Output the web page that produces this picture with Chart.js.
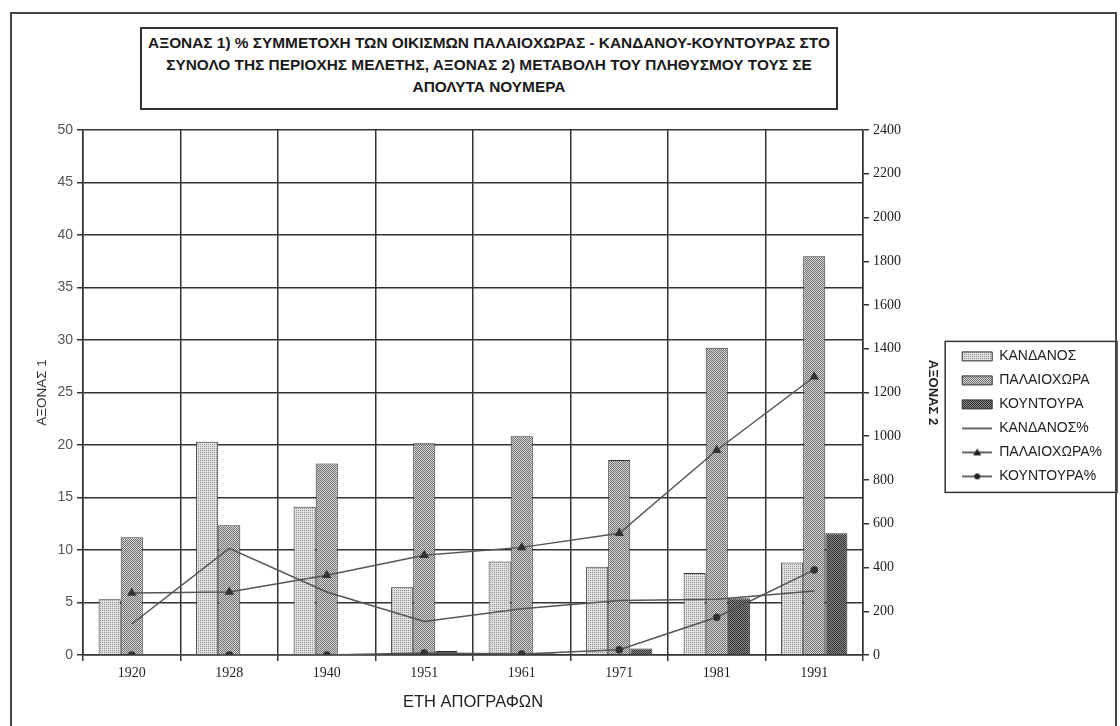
<!DOCTYPE html>
<html>
<head>
<meta charset="utf-8">
<script src="https://cdn.jsdelivr.net/npm/chart.js@4"></script>
<style>
  body { margin: 0; background: #fff; }
  #wrap { position: relative; width: 1120px; height: 726px; overflow: hidden; }
  #frame { position: absolute; left: 10px; top: 12px; width: 1103px; height: 716px; border: 2px solid #444; pointer-events: none; }
  #titleBox {
    position: absolute; left: 140px; top: 27px; width: 694px; height: 76px;
    border: 2px solid #333; background: #fff;
    font-family: "Liberation Sans", Arial, sans-serif; font-weight: bold; font-size: 15.4px;
    line-height: 22px; text-align: center; color: #1a1a1a; padding-top: 3px;
  }
</style>
</head>
<body>
<div id="wrap">
  <canvas id="chart" width="1120" height="726"></canvas>
  <div id="frame"></div>
  <div id="titleBox">ΑΞΟΝΑΣ 1) % ΣΥΜΜΕΤΟΧΗ ΤΩΝ ΟΙΚΙΣΜΩΝ ΠΑΛΑΙΟΧΩΡΑΣ - ΚΑΝΔΑΝΟΥ-ΚΟΥΝΤΟΥΡΑΣ ΣΤΟ<br>ΣΥΝΟΛΟ ΤΗΣ ΠΕΡΙΟΧΗΣ ΜΕΛΕΤΗΣ, ΑΞΟΝΑΣ 2) ΜΕΤΑΒΟΛΗ ΤΟΥ ΠΛΗΘΥΣΜΟΥ ΤΟΥΣ ΣΕ<br>ΑΠΟΛΥΤΑ ΝΟΥΜΕΡΑ</div>
</div>
<script>
// έτη απογραφών
const years = ['1920', '1928', '1940', '1951', '1961', '1971', '1981', '1991'];

// πληθυσμός (άξονας 2)
const kandanos   = [255, 975, 678, 310, 427, 404, 375, 423];
const palaiochora = [538, 593, 876, 968, 1000, 891, 1405, 1823];
const kountoura  = [0, 0, 0, 18, 8, 30, 260, 557];

// % συμμετοχή (άξονας 1)
const kandanosPct    = [2.95, 10.15, 6.0, 3.2, 4.4, 5.2, 5.3, 6.1];
const palaiochoraPct = [5.9, 6.0, 7.6, 9.5, 10.25, 11.6, 19.5, 26.5];
const kountouraPct   = [0, 0, 0, 0.2, 0.1, 0.5, 3.6, 8.1];

const sansFont = '"Liberation Sans", Arial, sans-serif';
const serifFont = '"Liberation Serif", "Times New Roman", serif';
const padRight = 8;

// μοτίβα για τις στήλες (σαν το τυπωμένο)
function makePattern(bg, dot, checker) {
    const c = document.createElement('canvas');
    c.width = 2; c.height = 2;
    const g = c.getContext('2d');
    g.fillStyle = bg;
    g.fillRect(0, 0, 2, 2);
    g.fillStyle = dot;
    g.fillRect(0, 0, 1, 1);
    if (checker) g.fillRect(1, 1, 1, 1);
    return g.createPattern(c, 'repeat');
}

// εικονίδια υπομνήματος για τις γραμμές
function makeLineIcon(marker) {
    const c = document.createElement('canvas');
    c.width = 30; c.height = 10;
    const g = c.getContext('2d');
    g.strokeStyle = '#333';
    g.fillStyle = '#222';
    g.lineWidth = 1.5;
    g.beginPath();
    g.moveTo(0, 5); g.lineTo(30, 5);
    g.stroke();
    if (marker === 'triangle') {
        g.beginPath();
        g.moveTo(15, 1); g.lineTo(19, 8); g.lineTo(11, 8);
        g.closePath(); g.fill();
    } else if (marker === 'circle') {
        g.beginPath();
        g.arc(15, 5, 3, 0, Math.PI * 2);
        g.fill();
    }
    return c;
}

const lineIcons = [makeLineIcon(null), makeLineIcon('triangle'), makeLineIcon('circle')];

// πλαίσιο γύρω από το υπόμνημα
const legendFrame = {
    id: 'legendFrame',
    afterDraw(chart) {
        const boxes = chart.legend.legendHitBoxes;
        if (!boxes || !boxes.length) return;
        const left = Math.min(...boxes.map(b => b.left)) - 17;
        const top = Math.min(...boxes.map(b => b.top)) - 8;
        const bottom = Math.max(...boxes.map(b => b.top + b.height)) + 9;
        const ctx = chart.ctx;
        ctx.save();
        ctx.strokeStyle = '#333';
        ctx.lineWidth = 1.5;
        ctx.strokeRect(left, top, 1117 - left, bottom - top);
        ctx.restore();
    }
};

const ctx = document.getElementById('chart').getContext('2d');

new Chart(ctx, {
    type: 'bar',
    data: {
        labels: years,
        datasets: [
            {
                label: 'ΚΑΝΔΑΝΟΣ', data: kandanos, yAxisID: 'y2', order: 2,
                backgroundColor: makePattern('#e2e2e2', '#8c8c8c', false),
                borderColor: '#333', borderWidth: 1
            },
            {
                label: 'ΠΑΛΑΙΟΧΩΡΑ', data: palaiochora, yAxisID: 'y2', order: 2,
                backgroundColor: makePattern('#d8d8d8', '#6e6e6e', true),
                borderColor: '#333', borderWidth: 1
            },
            {
                label: 'ΚΟΥΝΤΟΥΡΑ', data: kountoura, yAxisID: 'y2', order: 2,
                backgroundColor: makePattern('#8a8a8a', '#2e2e2e', true),
                borderColor: '#333', borderWidth: 1
            },
            {
                type: 'line', label: 'ΚΑΝΔΑΝΟΣ%', data: kandanosPct, yAxisID: 'y', order: 1,
                borderColor: '#555', borderWidth: 1.5, pointRadius: 0, tension: 0
            },
            {
                type: 'line', label: 'ΠΑΛΑΙΟΧΩΡΑ%', data: palaiochoraPct, yAxisID: 'y', order: 1,
                borderColor: '#555', borderWidth: 1.5, tension: 0,
                pointStyle: 'triangle', pointRadius: 4,
                pointBackgroundColor: '#333', pointBorderColor: '#333'
            },
            {
                type: 'line', label: 'ΚΟΥΝΤΟΥΡΑ%', data: kountouraPct, yAxisID: 'y', order: 1,
                borderColor: '#555', borderWidth: 1.5, tension: 0,
                pointStyle: 'circle', pointRadius: 3,
                pointBackgroundColor: '#333', pointBorderColor: '#333'
            }
        ]
    },
    options: {
        responsive: false,
        animation: false,
        devicePixelRatio: 1,
        categoryPercentage: 0.68,
        barPercentage: 1.0,
        layout: { padding: { top: 130, left: 30, right: padRight, bottom: 14 } },
        plugins: {
            tooltip: { enabled: false },
            title: { display: false },
            legend: {
                position: 'right',
                align: 'start',
                // κενός τίτλος μόνο για να κατέβει το υπόμνημα στο ύψος του πρωτοτύπου
                title: { display: true, text: '', padding: { top: 195, bottom: 0 } },
                labels: {
                    font: { family: sansFont, size: 14 },
                    color: '#222',
                    padding: 10,
                    usePointStyle: true,
                    pointStyleWidth: 30,
                    boxHeight: 9,
                    sort: (a, b) => a.datasetIndex - b.datasetIndex,
                    generateLabels(chart) {
                        const items = Chart.defaults.plugins.legend.labels.generateLabels(chart);
                        items.forEach(it => {
                            if (it.datasetIndex >= 3) {
                                it.pointStyle = lineIcons[it.datasetIndex - 3];
                            } else {
                                it.pointStyle = 'rect';
                            }
                        });
                        return items;
                    }
                }
            }
        },
        scales: {
            x: {
                grid: { offset: true, color: '#333', lineWidth: 1.5, tickLength: 6 },
                border: { color: '#333', width: 1.5 },
                ticks: { font: { family: serifFont, size: 14 }, color: '#222', padding: 4 },
                title: {
                    display: true, text: 'ΕΤΗ ΑΠΟΓΡΑΦΩΝ',
                    font: { family: sansFont, size: 16.5 }, color: '#222',
                    padding: { top: 4, bottom: 0 }
                },
                afterFit: s => { s.height = 57; }
            },
            y: {
                position: 'left', min: 0, max: 50,
                ticks: { stepSize: 5, font: { family: sansFont, size: 14 }, color: '#555', padding: 4 },
                grid: { color: '#333', lineWidth: 1.5, tickLength: 6 },
                border: { color: '#333', width: 1.5 },
                title: {
                    display: true, text: 'ΑΞΟΝΑΣ 1',
                    font: { family: sansFont, size: 13.5 }, color: '#333', padding: 4
                },
                afterFit: s => { s.width = 53; }
            },
            y2: {
                position: 'right', min: 0, max: 2400,
                ticks: {
                    stepSize: 200, font: { family: serifFont, size: 14 }, color: '#222', padding: 4,
                    callback: v => String(v)
                },
                grid: { drawOnChartArea: false, color: '#333', lineWidth: 1.5, tickLength: 6 },
                border: { color: '#333', width: 1.5 },
                title: {
                    display: true, text: 'ΑΞΟΝΑΣ 2',
                    font: { family: sansFont, size: 13, weight: 'bold' }, color: '#222', padding: 12
                },
                afterFit: s => { s.width = s.chart.width - padRight - s.chart.legend.width - 863; }
            }
        }
    },
    plugins: [legendFrame]
});
</script>
</body>
</html>
